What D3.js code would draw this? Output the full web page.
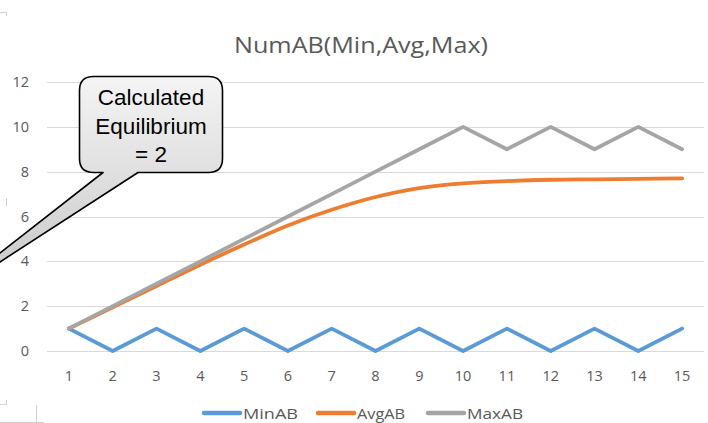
<!doctype html>
<html lang="en">
<head>
<meta charset="utf-8">
<title>NumAB(Min,Avg,Max)</title>
<style>
html, body {
	margin: 0;
	padding: 0;
	width: 100%;
	height: 100%;
	overflow: hidden;
	background: #fff;
}
svg text {
	font-family: 'Open Sans', 'Noto Sans', sans-serif;
	fill: #595959;
}
.grid line { stroke: #d9d9d9; stroke-width: 1px; }
.series { fill: none; stroke-width: 3.8px; stroke-linejoin: round; stroke-linecap: round; }
.callout text { font-family: 'Liberation Sans', Arial, sans-serif; fill: #000; }
</style>
</head>
<body>
<div id="container"></div>
<script src="https://cdnjs.cloudflare.com/ajax/libs/d3/7.8.5/d3.min.js"></script>
<script>
// data
var categories = [1, 2, 3, 4, 5, 6, 7, 8, 9, 10, 11, 12, 13, 14, 15];
var minAB = [1, 0, 1, 0, 1, 0, 1, 0, 1, 0, 1, 0, 1, 0, 1];
var avgAB = [1, 1.95, 2.9, 3.85, 4.75, 5.6, 6.3, 6.87, 7.27, 7.48, 7.58, 7.64, 7.66, 7.68, 7.7];
var maxAB = [1, 2, 3, 4, 5, 6, 7, 8, 9, 10, 9, 10, 9, 10, 9];
var yTicks = [0, 2, 4, 6, 8, 10, 12];
var seriesNames = ['MinAB', 'AvgAB', 'MaxAB'];
var chartTitle = 'NumAB(Min,Avg,Max)';
var calloutLines = ['Calculated', 'Equilibrium', '= 2'];

(function (d3) {
	'use strict';

	var W = 708, H = 423;
	var plot = { left: 47, right: 704, top: 82, bottom: 351 };
	var colors = ['#5b9bd5', '#ed7d31', '#a5a5a5'];
	var series = [minAB, avgAB, maxAB];

	var svg = d3.select('#container').append('svg')
		.attr('width', W).attr('height', H);

	var x = d3.scaleBand().domain(categories).range([plot.left, plot.right]);
	var y = d3.scaleLinear().domain([0, 12]).range([plot.bottom, plot.top]);
	var cx = function (c) { return x(c) + x.bandwidth() / 2; };

	// faint window edges of the original screenshot
	var edge = svg.append('g').attr('stroke', '#d0d0d0').attr('fill', 'none');
	edge.append('path').attr('d', 'M0,12.5H6.5V16');
	edge.append('path').attr('d', 'M6.5,198V206');
	edge.append('path').attr('d', 'M0,404.5H6.5V400');
	edge.append('path').attr('d', 'M36.5,405V423');
	edge.append('path').attr('d', 'M0,422.5H44');

	// title
	svg.append('text')
		.attr('x', 361).attr('y', 53)
		.attr('text-anchor', 'middle')
		.style('font-size', '21px')
		.attr('textLength', 254)
		.attr('lengthAdjust', 'spacingAndGlyphs')
		.text(chartTitle);

	// gridlines
	svg.append('g').attr('class', 'grid')
		.selectAll('line').data(yTicks).enter()
		.append('line')
		.attr('x1', plot.left).attr('x2', plot.right)
		.attr('y1', function (d) { return Math.round(y(d)) + 0.5; })
		.attr('y2', function (d) { return Math.round(y(d)) + 0.5; });

	// y axis labels
	svg.append('g').selectAll('text').data(yTicks).enter()
		.append('text')
		.attr('x', 29)
		.attr('y', function (d) { return y(d) + 5; })
		.attr('text-anchor', 'end')
		.style('font-size', '14.5px')
		.text(function (d) { return d; });

	// x axis labels
	svg.append('g').selectAll('text').data(categories).enter()
		.append('text')
		.attr('x', cx)
		.attr('y', 381)
		.attr('text-anchor', 'middle')
		.style('font-size', '14.5px')
		.text(function (d) { return d; });

	// lines
	var line = d3.line()
		.x(function (d, i) { return cx(categories[i]); })
		.y(function (d) { return y(d); });
	var smooth = d3.line()
		.x(function (d, i) { return cx(categories[i]); })
		.y(function (d) { return y(d); })
		.curve(d3.curveCatmullRom.alpha(0.5));

	[0, 1, 2].forEach(function (k) {
		svg.append('path')
			.attr('class', 'series')
			.attr('stroke', colors[k])
			.attr('d', (k === 1 ? smooth : line)(series[k]));
	});

	// legend
	var legendX = [204, 318, 428];
	var legendW = [55, 48, 56];
	var lg = svg.append('g');
	seriesNames.forEach(function (name, k) {
		lg.append('line')
			.attr('x1', legendX[k]).attr('x2', legendX[k] + 36)
			.attr('y1', 413).attr('y2', 413)
			.attr('stroke', colors[k]).attr('stroke-width', 4.5)
			.attr('stroke-linecap', 'round');
		lg.append('text')
			.attr('x', legendX[k] + 39).attr('y', 419)
			.style('font-size', '15px')
			.attr('textLength', legendW[k])
			.attr('lengthAdjust', 'spacingAndGlyphs')
			.text(name);
	});

	// callout
	var defs = svg.append('defs');
	var grad = defs.append('linearGradient').attr('id', 'cg')
		.attr('x1', 0).attr('y1', 0).attr('x2', 0).attr('y2', 1);
	grad.append('stop').attr('offset', '0%').attr('stop-color', '#f4f4f4');
	grad.append('stop').attr('offset', '100%').attr('stop-color', '#c4c4c4');

	var co = svg.append('g').attr('class', 'callout');
	var bx = 79.5, by = 76.5, bw = 143, bh = 96, r = 14;
	co.append('path')
		.attr('fill', 'url(#cg)')
		.attr('stroke', '#000')
		.attr('stroke-width', 1.6)
		.attr('stroke-linejoin', 'round')
		.attr('d', [
			'M', bx + r, by,
			'H', bx + bw - r,
			'Q', bx + bw, by, bx + bw, by + r,
			'V', by + bh - r,
			'Q', bx + bw, by + bh, bx + bw - r, by + bh,
			'H', 138,
			'L', -68, 306,
			'L', 103, by + bh,
			'H', bx + r,
			'Q', bx, by + bh, bx, by + bh - r,
			'V', by + r,
			'Q', bx, by, bx + r, by,
			'Z'
		].join(' '));
	co.selectAll('text').data(calloutLines).enter()
		.append('text')
		.attr('x', 151)
		.attr('y', function (d, i) { return 105 + i * 28.5; })
		.attr('text-anchor', 'middle')
		.style('font-size', '22.5px')
		.text(function (d) { return d; });

})(window.d3);
</script>
</body>
</html>
